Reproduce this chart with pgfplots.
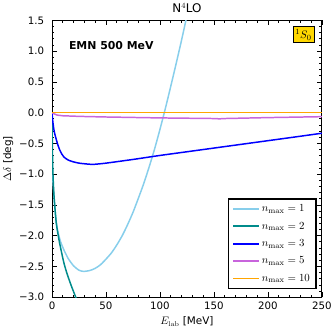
\documentclass[border=0pt]{standalone}
\usepackage[no-math]{fontspec}
\setmainfont{DejaVu Sans}
\usepackage{xcolor}
\usepackage{pgfplots}
\pgfplotsset{compat=1.18}

\definecolor{lineA}{HTML}{87CEEB}
\definecolor{lineB}{HTML}{008B8B}
\definecolor{lineC}{HTML}{0000FF}
\definecolor{lineD}{HTML}{C864DC}
\definecolor{lineE}{HTML}{FFA500}
\definecolor{boxgold}{HTML}{FFD700}

\begin{document}
\begin{tikzpicture}
\begin{axis}[
    scale only axis,
    width=272pt, height=279pt,
    xmin=0, xmax=250, ymin=-3, ymax=1.5,
    axis line style={line width=0.9pt},
    xtick={0,50,100,150,200,250},
    xticklabels={0,50,100,150,200,250},
    ytick={-3,-2.5,-2,-1.5,-1,-0.5,0,0.5,1,1.5},
    yticklabels={−3.0,−2.5,−2.0,−1.5,−1.0,−0.5,0.0,0.5,1.0,1.5},
    minor x tick num=4, minor y tick num=4,
    major tick length=5pt, minor tick length=2.5pt,
    tick style={black, line width=0.8pt},
    tick label style={font=\fontsize{10.3}{12}\selectfont},
    yticklabel style={xshift=-4.5pt},
    xticklabel style={yshift=-1.5pt},
    xlabel={$E_{\mathrm{lab}}$ [MeV]},
    ylabel={$\Delta\delta$ [deg]},
    label style={font=\fontsize{10.5}{12}\selectfont},
    ylabel style={yshift=-1pt},
    title={N$^4$LO},
    title style={font=\fontsize{12}{14}\selectfont, yshift=-2pt},
    legend style={at={(0.98,0.03)}, anchor=south east, draw=black,
        line width=1.4pt, font=\fontsize{11}{13}\selectfont,
        inner xsep=4pt, inner ysep=3.5pt, row sep=5pt, cells={anchor=west}},
    legend image code/.code={\draw[#1] (0pt,0pt) -- (26pt,0pt);},
    legend image post style={line width=1.7pt},
    clip=true,
]
\addplot[color=lineA, line width=1.5pt, smooth, tension=0.4] coordinates {
 (0,0) (0.3,-0.94) (1,-1.15) (2,-1.4) (3,-1.62) (4,-1.78) (5,-1.9) (6.4,-2.0)
 (8,-2.1) (11,-2.23) (15,-2.37) (20,-2.49) (25,-2.56) (29.4,-2.58) (35,-2.565)
 (40,-2.53) (45,-2.47) (50,-2.38) (55,-2.28) (60,-2.15) (65,-2.0) (70,-1.82)
 (75,-1.62) (80,-1.39) (85,-1.15) (90,-0.88) (95,-0.59) (100,-0.27) (105,0.07)
 (110,0.43) (115,0.8) (120,1.18) (125,1.58) (130,2.0)
};
\addlegendentry{$n_{\mathrm{max}} = 1$}
\addplot[color=lineB, line width=1.5pt, smooth, tension=0.4] coordinates {
 (0,0) (0.3,-0.5) (0.7,-0.9) (1.5,-1.25) (2.5,-1.5) (4,-1.8) (6.4,-2.06)
 (8,-2.2) (11,-2.44) (14,-2.62) (18,-2.82) (22,-3.0) (24,-3.1)
};
\addlegendentry{$n_{\mathrm{max}} = 2$}
\addplot[color=lineC, line width=1.5pt, smooth, tension=0.4] coordinates {
 (0,0) (0.5,-0.1) (1,-0.18) (2,-0.3) (3.4,-0.4) (5,-0.5) (7,-0.6) (9,-0.67)
 (11,-0.72) (15,-0.77) (20,-0.80) (25,-0.82) (30,-0.83) (38,-0.84) (50,-0.82)
 (75,-0.76) (100,-0.695) (125,-0.635) (150,-0.575) (175,-0.515) (200,-0.455)
 (225,-0.395) (250,-0.334)
};
\addlegendentry{$n_{\mathrm{max}} = 3$}
\addplot[color=lineD, line width=1.5pt] coordinates {
 (0,0) (2,-0.02) (5,-0.04) (10,-0.05) (25,-0.06) (50,-0.07) (100,-0.085)
 (150,-0.095) (155,-0.10) (160,-0.095) (200,-0.08) (250,-0.065)
};
\addlegendentry{$n_{\mathrm{max}} = 5$}
\addplot[color=lineE, line width=1.5pt] coordinates {
 (0,0) (50,0) (100,0) (150,0) (200,0) (250,0)
};
\addlegendentry{$n_{\mathrm{max}} = 10$}
\node[anchor=west, font=\bfseries\fontsize{11}{13}\selectfont] at (rel axis cs:0.05,0.91) {EMN 500 MeV};
\node[anchor=north east, fill=boxgold, draw=black, line width=0.8pt, inner sep=2.5pt,
  font=\fontsize{11}{13}\selectfont] at (rel axis cs:0.972,0.978) {$^1S_0$};
\end{axis}
\end{tikzpicture}
\end{document}
